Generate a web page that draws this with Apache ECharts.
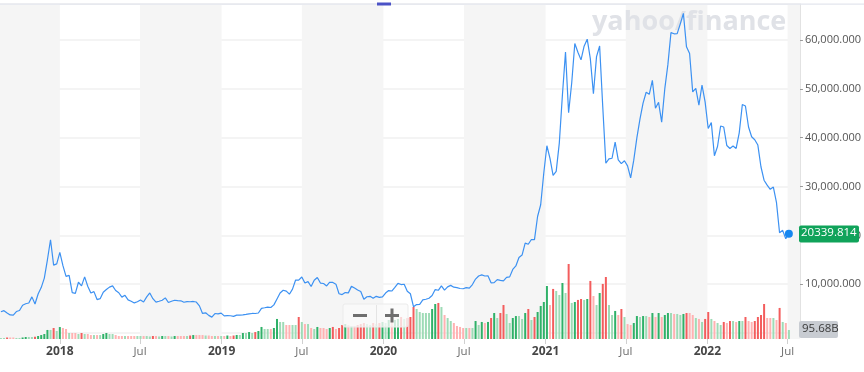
<!DOCTYPE html>
<html><head><meta charset="utf-8">
<script src="https://cdn.jsdelivr.net/npm/echarts/dist/echarts.min.js"></script>
<style>html,body{margin:0;padding:0;background:#fff}#c{width:864px;height:372px}</style>
</head><body><div id="c"></div>
<script>
// ---- data ----
const firstWeek = '2017-08-21'; // weekly points, one per Monday
const p2017 = [4350,4580,4120,3700,3670,4400,4600,5700,6000,6150,7400,5950,8000,9300,11250,15000,19100,13900,14150];
const p2018 = [16500,13800,11600,11800,8280,8130,10400,9660,11500,9580,8200,8470,6850,7040,8360,8900,9400,9650,8700,8250,7350,7720,6780,6500,6160,6390,6750,6360,7400,8200,7030,6310,6500,6700,7200,6240,6500,6710,6630,6600,6300,6420,6400,6460,6350,5560,4010,4140,3610,3250,3990,3920,4080];
const p2019 = [3510,3540,3530,3410,3660,3670,3730,3820,3920,4000,3990,4100,5060,5170,5310,5230,5760,6980,8200,8750,8570,7950,8980,10850,10820,11470,10250,10530,9530,10820,11380,10230,10140,9630,10400,10360,10000,8050,7870,8280,8220,9550,9200,8810,8500,6900,7420,7510,7100,7510,7300,7410];
const p2020 = [8190,8700,8600,9340,10170,9930,9990,8560,8040,5390,5830,5880,6780,6910,7120,7680,8900,8750,9670,8790,9450,9760,9390,9300,9120,9070,9300,9210,9930,11050,11680,11910,11680,11710,10280,10330,10940,10780,10670,11380,11500,13030,13740,15480,15970,18410,18180,19150,19140,23870,26270,32780];
const p2021 = [38360,35790,32290,33110,38900,48720,57540,45140,51210,59300,57520,55950,58760,60200,56220,49000,56620,58800,46460,34770,35680,35800,39100,35480,34700,35290,34240,31780,35400,39970,43800,47100,49320,48900,51750,46060,47260,43200,50000,54970,61530,61300,61320,63330,65470,58620,57250,49400,50100,46700,50800,47350];
const p2022 = [41900,43100,36300,38200,42400,42200,38400,37800,38300,37800,41000,46800,46500,42200,40200,39600,38500,34060,31300,30290,29440,29900,26760,20550,21030,19300,20339.814];
// weekly volume, billions
const v2017 = [11,11,16,16,16,11,11,16,21,21,21,24,32,42,53,96,96,117,85];
const v2018 = [127,117,106,64,64,64,53,64,53,53,42,42,42,42,53,64,53,53,42,32,32,32,32,32,32,32,32,32,32,27,32,32,27,32,32,32,27,32,32,32,32,32,37,42,42,42,42,37,37,32,32,32,32];
const v2019 = [32,37,32,37,43,43,64,64,74,64,74,85,128,106,106,106,117,213,181,181,149,149,149,149,234,181,159,159,117,106,128,117,117,106,117,128,106,117,149,159,149,138,138,149,159,170,159,149,170,159,170,181];
const v2020 = [170,202,191,202,213,234,213,223,234,340,319,287,276,276,276,319,372,383,340,255,223,191,170,138,128,117,117,117,117,191,149,181,170,181,223,276,223,276,361,266,170,223,244,244,213,276,319,202,234,287,351,393];
const v2021 = [563,361,532,510,468,595,489,797,383,393,415,425,415,425,617,457,361,489,585,659,361,255,298,255,319,234,159,149,170,244,234,244,244,234,276,234,276,234,255,276,276,266,266,255,266,276,276,255,223,213,181,213];
const v2022 = [287,213,191,170,149,181,170,191,191,181,191,191,234,191,181,191,234,255,372,223,223,223,202,330,181,170,95.68];
const lastPriceText = '20339.814';
const lastVolumeText = '95.68B';
const xTickDates = ['2018-01-01','2018-07-01','2019-01-01','2019-07-01','2020-01-01','2020-07-01','2021-01-01','2021-07-01','2022-01-01','2022-07-01'];
const bandRanges = [['2017-08-19','2018-01-01'],['2018-07-01','2019-01-01'],['2019-07-01','2020-01-01'],['2020-07-01','2021-01-01'],['2021-07-01','2022-01-01'],['2022-07-01','2022-07-29']];
const xMin = '2017-08-19', xMax = '2022-07-29';

// ---- build ----
const DAY = 86400000;
const prices = [].concat(p2017,p2018,p2019,p2020,p2021,p2022);
const vols = [].concat(v2017,v2018,v2019,v2020,v2021,v2022);
const t0 = Date.parse(firstWeek);
const times = prices.map((_, i) => t0 + i * 7 * DAY);
const tMin = Date.parse(xMin), tMax = Date.parse(xMax);
const FONT = "'Open Sans', 'Liberation Sans', sans-serif";

const priceData = prices.map((p, i) => [times[i], p]);
const volData = vols.map((v, i) => {
  const up = i === 0 ? true : prices[i] >= prices[i - 1];
  const strong = i === 0 ? false : v > vols[i - 1];
  const color = up ? (strong ? '#2fb168' : '#9edbb6') : (strong ? '#f35d5d' : '#ffb2b2');
  return { value: [times[i], v], itemStyle: { color } };
});
const lastIdx = prices.length - 1;

const chart = echarts.init(document.getElementById('c'), null, { renderer: 'canvas' });
const xBase = { type: 'value', min: tMin, max: tMax, splitLine: { show: false }, axisLine: { show: false } };
const tickVals = xTickDates.map(Date.parse);
const option = {
  animation: false,
  backgroundColor: '#fff',
  grid: [
    { left: 0, right: 64, top: 4, bottom: 39 },
    { left: 0, right: 64, top: 259, bottom: 33 },
    { left: 0, right: 64, top: 4, bottom: 33 }
  ],
  xAxis: [
    Object.assign({}, xBase, { gridIndex: 0, axisLabel: { show: false }, axisTick: { show: false } }),
    Object.assign({}, xBase, {
      gridIndex: 1,
      axisTick: { show: true, length: 5, lineStyle: { color: '#d0d0d0' }, customValues: tickVals },
      axisLabel: {
        show: true, margin: 7, customValues: tickVals, showMinLabel: true, showMaxLabel: true,
        formatter: v => { const d = new Date(v); return d.getUTCMonth() === 0 ? '{y|' + d.getUTCFullYear() + '}' : '{m|Jul}'; },
        rich: {
          y: { fontFamily: FONT, fontSize: 12, fontWeight: 'bold', color: '#464646' },
          m: { fontFamily: FONT, fontSize: 11.5, color: '#6e6e6e' }
        }
      }
    }),
    Object.assign({}, xBase, { gridIndex: 2, show: false })
  ],
  yAxis: [
    {
      gridIndex: 0, type: 'value', position: 'right', min: 0, max: 67400, interval: 10000,
      axisLine: { show: true, lineStyle: { color: '#e2e2e2' } },
      axisTick: { show: true, length: 3, lineStyle: { color: '#9a9a9a' } },
      splitLine: { show: true, lineStyle: { color: '#f0f0f0', width: 1.5 } },
      axisLabel: {
        show: true, margin: 5, showMaxLabel: false, fontFamily: FONT, fontSize: 11, color: '#555',
        formatter: v => v.toLocaleString('en-US', { minimumFractionDigits: 3, maximumFractionDigits: 3 })
      }
    },
    { gridIndex: 1, type: 'value', min: 0, max: 850, show: false, splitLine: { show: false } },
    { gridIndex: 2, type: 'value', min: 0, max: 1, show: false, splitLine: { show: false } }
  ],
  series: [
    {
      type: 'line', xAxisIndex: 2, yAxisIndex: 2, z: 0, silent: true,
      data: [[tMin, 0]], symbol: 'none', lineStyle: { opacity: 0 },
      markArea: {
        silent: true, itemStyle: { color: '#f5f5f5' },
        data: bandRanges.map(r => [{ xAxis: Date.parse(r[0]) }, { xAxis: Date.parse(r[1]) }])
      }
    },
    {
      type: 'bar', xAxisIndex: 1, yAxisIndex: 1, z: 2, barWidth: 2, data: volData, silent: true
    },
    {
      type: 'line', xAxisIndex: 0, yAxisIndex: 0, z: 3, data: priceData, symbol: 'none',
      lineStyle: { color: '#3c91f2', width: 1.2 },
      markPoint: {
        symbol: 'circle', symbolSize: 8, silent: true,
        itemStyle: { color: '#1787f0' }, label: { show: false },
        data: [{ coord: priceData[lastIdx] }]
      }
    }
  ]
};
chart.setOption(option);

const pPix = chart.convertToPixel({ xAxisIndex: 0, yAxisIndex: 0 }, priceData[lastIdx]);
const vPix = chart.convertToPixel({ xAxisIndex: 1, yAxisIndex: 1 }, [times[lastIdx], vols[lastIdx]]);
const py = Math.round(pPix[1]), vy = Math.round(vPix[1]);

chart.setOption({
  graphic: [
    { type: 'rect', z: 10, shape: { x: 0, y: 3.5, width: 864, height: 1.2 }, style: { fill: '#e3e6ee' } },
    { type: 'rect', z: 11, shape: { x: 377, y: 2.5, width: 14, height: 3 }, style: { fill: '#4b52c6' } },
    { type: 'text', z: 1, x: 592, y: 9,
      style: { text: 'yahoo/finance', font: "bold 27px 'Open Sans', sans-serif", fill: '#e0e2e7' } },
    { type: 'rect', z: 20, shape: { x: 343, y: 304, width: 65, height: 23, r: 2 }, style: { fill: 'rgba(250,250,250,0.78)', stroke: '#ebebeb', lineWidth: 1 } },
    { type: 'rect', z: 21, shape: { x: 376, y: 305, width: 1, height: 21 }, style: { fill: '#e4e4e4' } },
    { type: 'rect', z: 21, shape: { x: 353, y: 314, width: 14, height: 3 }, style: { fill: '#6f6f6f' } },
    { type: 'rect', z: 21, shape: { x: 385, y: 314, width: 14, height: 3 }, style: { fill: '#6f6f6f' } },
    { type: 'rect', z: 21, shape: { x: 390.5, y: 308.5, width: 3, height: 14 }, style: { fill: '#6f6f6f' } },
    { type: 'rect', z: 30, shape: { x: 799, y: py - 8.5, width: 60, height: 17, r: 2 }, style: { fill: '#10a35a' } },
    { type: 'text', z: 31, x: 801, y: py - 7, style: { text: lastPriceText, font: "11.5px 'Open Sans', sans-serif", fill: '#fff' } },
    { type: 'rect', z: 30, shape: { x: 799, y: vy - 9, width: 39, height: 17, r: 2 }, style: { fill: '#c8ccd2' } },
    { type: 'text', z: 31, x: 802, y: vy - 7.5, style: { text: lastVolumeText, font: "11.5px 'Open Sans', sans-serif", fill: '#3a3a3a' } }
  ]
});
</script></body></html>
